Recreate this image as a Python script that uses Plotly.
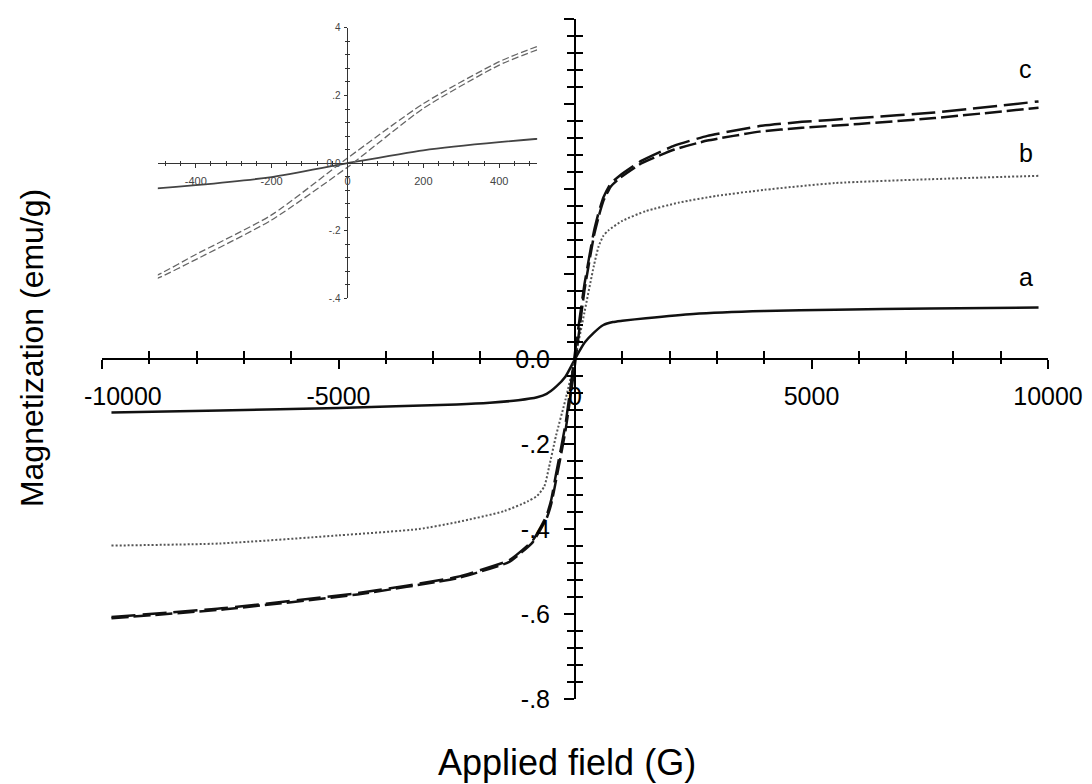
import numpy as np
import plotly.graph_objects as go

# ---------------- data ----------------
H_a = [-9800, -7500, -5000, -2500, -1800, -1200, -800, -600, -400, -200, 0,
       200, 400, 600, 800, 1000, 1500, 2500, 4000, 5500, 7500, 9800]
M_a = [-0.126, -0.121, -0.115, -0.107, -0.103, -0.097, -0.090, -0.082, -0.065, -0.041, 0.0,
       0.038, 0.062, 0.080, 0.087, 0.090, 0.096, 0.106, 0.113, 0.116, 0.119, 0.121]

H_b = [-9800, -7500, -5000, -3300, -2500, -1500, -1000, -800, -650, -550, -400, -200, 0,
       200, 400, 500, 600, 700, 1000, 1500, 2200, 3000, 4000, 5500, 7500, 9800]
M_b = [-0.439, -0.434, -0.415, -0.400, -0.384, -0.358, -0.335, -0.322, -0.300, -0.255, -0.180, -0.095, 0.0,
       0.110, 0.220, 0.265, 0.290, 0.302, 0.325, 0.348, 0.368, 0.384, 0.398, 0.414, 0.423, 0.431]

H_c = [-9800, -7400, -4600, -2500, -1400, -900, -600, -500, -400, -200, 0,
       200, 400, 500, 600, 750, 950, 1400, 2100, 2800, 3900, 4800, 6000, 7600, 9800]
M_c1 = [-0.607, -0.586, -0.551, -0.513, -0.474, -0.428, -0.368, -0.330, -0.270, -0.153, 0.015,
        0.176, 0.300, 0.345, 0.380, 0.412, 0.432, 0.466, 0.502, 0.525, 0.548, 0.558, 0.567, 0.580, 0.606]
M_c2 = [-0.610, -0.589, -0.554, -0.516, -0.478, -0.432, -0.375, -0.340, -0.285, -0.168, -0.012,
        0.162, 0.290, 0.335, 0.372, 0.405, 0.426, 0.460, 0.493, 0.514, 0.535, 0.544, 0.553, 0.567, 0.591]

x_major = [-10000, -5000, 0, 5000, 10000]
x_major_text = ["\u00a0" * 6 + "-10000", "-5000", "0", "5000", "10000"]
y_major = [-0.8, -0.6, -0.4, -0.2, 0.0, 0.2, 0.4, 0.6, 0.8]
y_major_text = ["-.8", "-.6", "-.4", "-.2", "0.0", "", "", "", ""]

ix_major = [-400, -200, 0, 200, 400]
ix_major_text = ["-400", "-200", "0", "200", "400"]
iy_major = [-0.4, -0.2, 0.0, 0.2, 0.4]
iy_major_text = ["-.4", "-.2", "0.0", ".2", "4"]

curve_labels = ["a", "b", "c"]
label_pos_y = [0.194, 0.485, 0.683]

# ---------------- figure ----------------
FONT = "Arial, Liberation Sans, sans-serif"
fig = go.Figure()

def add_main(x, y, dash, width, color, smoothing=0.6):
    fig.add_trace(go.Scatter(x=x, y=y, mode="lines", xaxis="x", yaxis="y",
                             line=dict(color=color, width=width, dash=dash, shape="spline", smoothing=smoothing),
                             showlegend=False, hoverinfo="skip"))

def add_inset(x, y, dash, width, color):
    fig.add_trace(go.Scatter(x=x, y=y, mode="lines", xaxis="x2", yaxis="y2",
                             line=dict(color=color, width=width, dash=dash, shape="spline", smoothing=0.6),
                             showlegend=False, hoverinfo="skip"))

add_main(H_a, M_a, "solid", 2.5, "#111111")
add_main(H_b, M_b, "2px,2px", 2, "#555555")
add_main(H_c, M_c1, "24px,7px", 2.5, "#111111", 0.4)
add_main(H_c, M_c2, "17px,5px", 2.5, "#111111", 0.4)

add_inset(H_a, M_a, "solid", 1.8, "#444444")
add_inset(H_c, M_c1, "7px,3px", 1.3, "#666666")
add_inset(H_c, M_c2, "7px,3px", 1.3, "#666666")

# invisible traces to activate overlay axes (for crossing ticks)
fig.add_trace(go.Scatter(x=[None], y=[None], xaxis="x3", yaxis="y3", showlegend=False, hoverinfo="skip"))
fig.add_trace(go.Scatter(x=[None], y=[None], xaxis="x4", yaxis="y4", showlegend=False, hoverinfo="skip"))

x_minor = [v for v in np.arange(-9000, 10000, 1000) if v % 5000 != 0 and v != -1000]
y_minor = [round(v, 2) for v in np.arange(-0.76, 0.80, 0.04) if abs(round(v / 0.2) * 0.2 - v) > 1e-6]
ix_minor = [v for v in np.arange(-480, 500, 40) if v % 200 != 0]
iy_minor = [round(v, 2) for v in np.arange(-0.36, 0.40, 0.04) if abs(round(v / 0.2) * 0.2 - v) > 1e-6]

ax_common = dict(showgrid=False, zeroline=False, color="black")

inset_xdom = [0.059, 0.46]
inset_ydom = [0.589, 0.987]
inset_xpos = (inset_xdom[0] + inset_xdom[1]) / 2
inset_ypos = (inset_ydom[0] + inset_ydom[1]) / 2

fig.update_layout(
    width=1084, height=776,
    margin=dict(l=94, r=44, t=5, b=85),
    paper_bgcolor="white", plot_bgcolor="rgba(0,0,0,0)",
    font=dict(family=FONT, color="black"),
    xaxis=dict(range=[-10000, 10000], domain=[0, 1], anchor="free", position=0.5,
               showline=True, linecolor="black", linewidth=2,
               ticks="outside", ticklen=9, tickwidth=2, tickcolor="black",
               tickvals=x_major, ticktext=x_major_text, tickfont=dict(size=25),
               ticklabelstandoff=6,
               minor=dict(tickvals=x_minor, ticks="outside", ticklen=4, tickwidth=2, tickcolor="black"),
               fixedrange=True, **ax_common),
    yaxis=dict(range=[-0.8, 0.8], domain=[0, 1], anchor="free", position=0.5, side="left",
               showline=True, linecolor="black", linewidth=2,
               ticks="outside", ticklen=10, tickwidth=2, tickcolor="black",
               tickvals=y_major, ticktext=y_major_text, tickfont=dict(size=25),
               ticklabelstandoff=9,
               minor=dict(tickvals=y_minor, ticks="outside", ticklen=7, tickwidth=2, tickcolor="black"),
               fixedrange=True, **ax_common),
    xaxis3=dict(range=[-10000, 10000], domain=[0, 1], overlaying="x", anchor="free", position=0.5,
                showline=False, ticks="inside", ticklen=8, tickwidth=2, tickcolor="black",
                tickvals=x_minor, showticklabels=False, fixedrange=True, **ax_common),
    yaxis3=dict(range=[-0.8, 0.8], domain=[0, 1], overlaying="y", anchor="free", position=0.5, side="left",
                showline=False, ticks="inside", ticklen=7, tickwidth=2, tickcolor="black",
                tickvals=y_minor, showticklabels=False, fixedrange=True, **ax_common),
    xaxis2=dict(range=[-500, 500], domain=inset_xdom, anchor="free", position=inset_ypos,
                showline=True, linecolor="#333333", linewidth=1,
                ticks="outside", ticklen=4, tickwidth=1, tickcolor="#333333",
                tickvals=ix_major, ticktext=ix_major_text, tickfont=dict(size=11, color="#444444"),
                ticklabelstandoff=4,
                minor=dict(tickvals=ix_minor, ticks="outside", ticklen=2, tickwidth=1, tickcolor="#333333"),
                fixedrange=True, **ax_common),
    yaxis2=dict(range=[-0.4, 0.4], domain=inset_ydom, anchor="free", position=inset_xpos, side="left",
                showline=True, linecolor="#333333", linewidth=1,
                ticks="outside", ticklen=3, tickwidth=1, tickcolor="#333333",
                tickvals=iy_major, ticktext=iy_major_text, tickfont=dict(size=10, color="#444444"),
                ticklabelstandoff=2,
                minor=dict(tickvals=iy_minor, ticks="outside", ticklen=2, tickwidth=1, tickcolor="#333333"),
                fixedrange=True, **ax_common),
    xaxis4=dict(range=[-500, 500], domain=inset_xdom, overlaying="x2", anchor="free", position=inset_ypos,
                showline=False, ticks="inside", ticklen=2, tickwidth=1, tickcolor="#333333",
                tickvals=ix_minor, showticklabels=False, fixedrange=True, **ax_common),
    yaxis4=dict(range=[-0.4, 0.4], domain=inset_ydom, overlaying="y2", anchor="free", position=inset_xpos,
                side="left", showline=False, ticks="inside", ticklen=2, tickwidth=1, tickcolor="#333333",
                tickvals=iy_minor, showticklabels=False, fixedrange=True, **ax_common),
)

annotations = [
    dict(text="Applied field (G)", xref="paper", yref="paper", x=0.4915, y=-0.094,
         xanchor="center", yanchor="middle", showarrow=False, font=dict(size=36)),
    dict(text="Magnetization (emu/g)", xref="paper", yref="paper", x=-0.074, y=0.516,
         xanchor="center", yanchor="middle", textangle=-90, showarrow=False, font=dict(size=32)),
]
for lab, ly in zip(curve_labels, label_pos_y):
    annotations.append(dict(text=lab, xref="x", yref="y", x=9530, y=ly, xanchor="center",
                            yanchor="middle", showarrow=False, font=dict(size=25)))
fig.update_layout(annotations=annotations)

fig.write_html("out.html")
